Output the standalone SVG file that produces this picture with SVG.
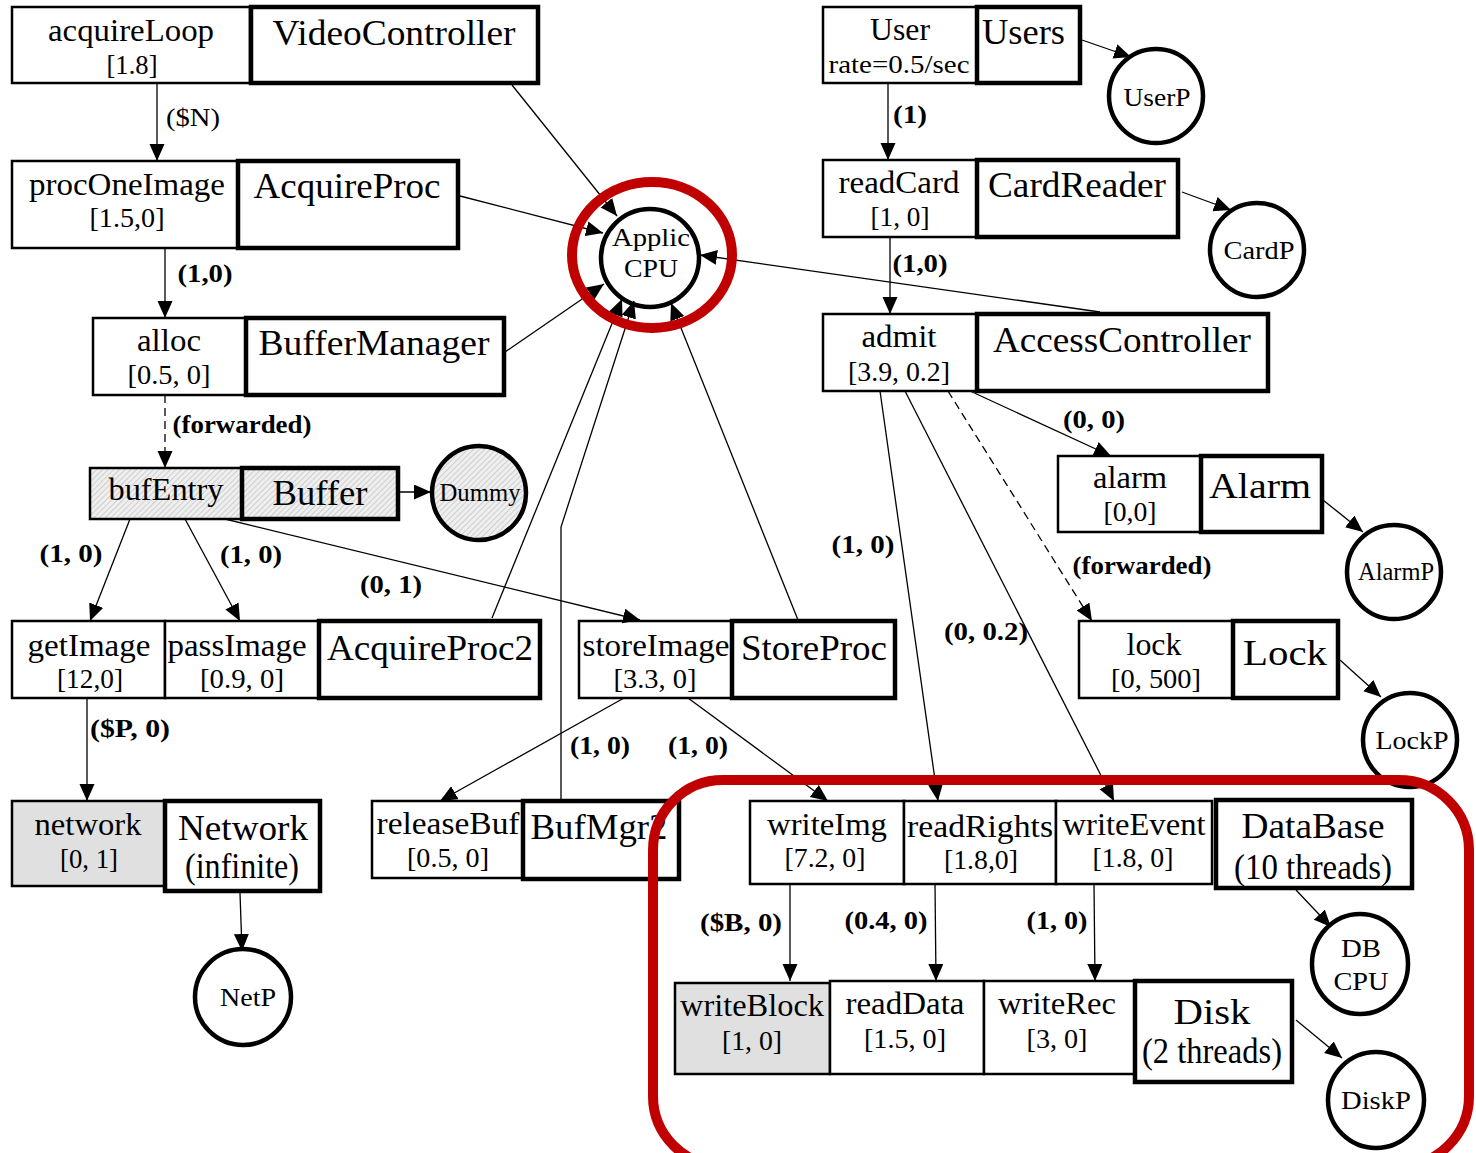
<svg xmlns="http://www.w3.org/2000/svg" width="1476" height="1153" viewBox="0 0 1476 1153">
<defs>
<pattern id="hatch" patternUnits="userSpaceOnUse" width="4" height="4" patternTransform="rotate(45)">
<rect width="4" height="4" fill="#efefef"/>
<line x1="0" y1="0" x2="0" y2="4" stroke="#b8b8b8" stroke-width="1.2"/>
</pattern>
<marker id="arr" markerUnits="userSpaceOnUse" markerWidth="18" markerHeight="16" refX="17" refY="7.5" orient="auto">
<path d="M0,0 L17,7.5 L0,15 z" fill="#000"/>
</marker>
</defs>
<style>
.e{fill:#fff;stroke:#000;stroke-width:2.5}
.t{fill:#fff;stroke:#000;stroke-width:4.5}
.p{fill:#fff;stroke:#000;stroke-width:4.5}
.g{fill:#e0e0e0}
.h{fill:url(#hatch)}
text{font-family:"Liberation Serif","Times New Roman",serif;fill:#000;text-anchor:middle}
.n{font-size:31px}
.b{font-size:28px}
.T{font-size:36px}
.c{font-size:25px}
.l{font-size:25px;font-weight:bold}
.conn path{fill:none;stroke:#000;stroke-width:1.3;marker-end:url(#arr)}
.conn path.d{stroke-dasharray:8,5}
.red{fill:none;stroke:#c00000;stroke-width:10}
</style>
<rect width="1476" height="1153" fill="#fff"/>

<g id="acquireLoop"><rect class="e" x="12" y="7" width="238" height="76"/><text class="n" x="131" y="41" textLength="166" lengthAdjust="spacingAndGlyphs">acquireLoop</text><text class="b" x="132" y="74" textLength="51" lengthAdjust="spacingAndGlyphs">[1.8]</text></g>
<g id="VideoController"><rect class="t" x="251" y="7" width="287" height="76"/><text class="T" x="394" y="45" textLength="243" lengthAdjust="spacingAndGlyphs">VideoController</text></g>

<g id="procOneImage"><rect class="e" x="12" y="161" width="226" height="87"/><text class="n" x="127" y="195" textLength="196" lengthAdjust="spacingAndGlyphs">procOneImage</text><text class="b" x="127" y="227" textLength="75" lengthAdjust="spacingAndGlyphs">[1.5,0]</text></g>
<g id="AcquireProc"><rect class="t" x="238" y="161" width="220" height="87"/><text class="T" x="347" y="198" textLength="187" lengthAdjust="spacingAndGlyphs">AcquireProc</text></g>

<g id="alloc"><rect class="e" x="93" y="318" width="153" height="77"/><text class="n" x="169" y="351" textLength="64" lengthAdjust="spacingAndGlyphs">alloc</text><text class="b" x="169" y="384" textLength="83" lengthAdjust="spacingAndGlyphs">[0.5, 0]</text></g>
<g id="BufferManager"><rect class="t" x="246" y="318" width="258" height="77"/><text class="T" x="374" y="355" textLength="231" lengthAdjust="spacingAndGlyphs">BufferManager</text></g>

<g id="bufEntry"><rect class="e h" x="90" y="468" width="152" height="51"/><text class="n" x="166" y="500" textLength="115" lengthAdjust="spacingAndGlyphs">bufEntry</text></g>
<g id="Buffer"><rect class="t h" x="242" y="468" width="156" height="51"/><text class="T" x="320" y="505" font-size="38" textLength="95" lengthAdjust="spacingAndGlyphs">Buffer</text></g>
<g id="Dummy"><circle class="p h" cx="479" cy="493" r="47"/><text class="c" x="480" y="501" font-size="23" textLength="81" lengthAdjust="spacingAndGlyphs">Dummy</text></g>

<g id="getImage"><rect class="e" x="12" y="621" width="153" height="77"/><text class="n" x="89" y="656" textLength="123" lengthAdjust="spacingAndGlyphs">getImage</text><text class="b" x="90" y="688" textLength="66" lengthAdjust="spacingAndGlyphs">[12,0]</text></g>
<g id="passImage"><rect class="e" x="165" y="621" width="154" height="77"/><text class="n" x="237" y="656" textLength="139" lengthAdjust="spacingAndGlyphs">passImage</text><text class="b" x="242" y="688" textLength="84" lengthAdjust="spacingAndGlyphs">[0.9, 0]</text></g>
<g id="AcquireProc2"><rect class="t" x="319" y="621" width="221" height="77"/><text class="T" x="430" y="660" textLength="206" lengthAdjust="spacingAndGlyphs">AcquireProc2</text></g>
<g id="storeImage"><rect class="e" x="579" y="621" width="153" height="77"/><text class="n" x="656" y="656" textLength="147" lengthAdjust="spacingAndGlyphs">storeImage</text><text class="b" x="655" y="688" textLength="83" lengthAdjust="spacingAndGlyphs">[3.3, 0]</text></g>
<g id="StoreProc"><rect class="t" x="732" y="621" width="163" height="77"/><text class="T" x="814" y="660" textLength="146" lengthAdjust="spacingAndGlyphs">StoreProc</text></g>

<g id="network"><rect class="e g" x="12" y="801" width="153" height="85"/><text class="n" x="88" y="835" textLength="107" lengthAdjust="spacingAndGlyphs">network</text><text class="b" x="89" y="868" textLength="58" lengthAdjust="spacingAndGlyphs">[0, 1]</text></g>
<g id="Network"><rect class="t" x="165" y="801" width="155" height="90"/><text class="T" x="243" y="840" textLength="130" lengthAdjust="spacingAndGlyphs">Network</text><text class="T" x="242" y="878" font-size="33" textLength="114" lengthAdjust="spacingAndGlyphs">(infinite)</text></g>
<g id="NetP"><circle class="p" cx="243" cy="997" r="48"/><text class="c" x="248" y="1006" textLength="56" lengthAdjust="spacingAndGlyphs">NetP</text></g>

<g id="releaseBuf"><rect class="e" x="372" y="801" width="151" height="77"/><text class="n" x="448" y="834" textLength="143" lengthAdjust="spacingAndGlyphs">releaseBuf</text><text class="b" x="448" y="867" textLength="82" lengthAdjust="spacingAndGlyphs">[0.5, 0]</text></g>
<g id="BufMgr2"><rect class="t" x="523" y="801" width="156" height="78"/><text class="T" x="599" y="839" textLength="137" lengthAdjust="spacingAndGlyphs">BufMgr2</text></g>

<g id="ApplicCPU"><circle class="p" cx="650" cy="258" r="49"/><text class="c" x="651" y="246" font-size="27" textLength="78" lengthAdjust="spacingAndGlyphs">Applic</text><text class="c" x="651" y="277" font-size="27" textLength="54" lengthAdjust="spacingAndGlyphs">CPU</text></g>

<g id="User"><rect class="e" x="823" y="7" width="154" height="76"/><text class="n" x="900" y="40" textLength="60" lengthAdjust="spacingAndGlyphs">User</text><text class="c" x="899" y="73" textLength="141" lengthAdjust="spacingAndGlyphs">rate=0.5/sec</text></g>
<g id="Users"><rect class="t" x="977" y="7" width="103" height="76"/><text class="T" x="982" y="44" style="text-anchor:start" font-size="38" textLength="83" lengthAdjust="spacingAndGlyphs">Users</text></g>
<g id="UserP"><circle class="p" cx="1156" cy="96" r="47"/><text class="c" x="1157" y="106" textLength="67" lengthAdjust="spacingAndGlyphs">UserP</text></g>

<g id="readCard"><rect class="e" x="823" y="160" width="154" height="77"/><text class="n" x="899" y="193" textLength="121" lengthAdjust="spacingAndGlyphs">readCard</text><text class="b" x="900" y="226" textLength="59" lengthAdjust="spacingAndGlyphs">[1, 0]</text></g>
<g id="CardReader"><rect class="t" x="977" y="160" width="201" height="77"/><text class="T" x="1077" y="197" textLength="178" lengthAdjust="spacingAndGlyphs">CardReader</text></g>
<g id="CardP"><circle class="p" cx="1257" cy="250" r="47"/><text class="c" x="1259" y="259" textLength="71" lengthAdjust="spacingAndGlyphs">CardP</text></g>

<g id="admit"><rect class="e" x="823" y="314" width="154" height="77"/><text class="n" x="899" y="347" textLength="75" lengthAdjust="spacingAndGlyphs">admit</text><text class="b" x="899" y="381" textLength="102" lengthAdjust="spacingAndGlyphs">[3.9, 0.2]</text></g>
<g id="AccessController"><rect class="t" x="977" y="314" width="291" height="77"/><text class="T" x="1122" y="352" textLength="258" lengthAdjust="spacingAndGlyphs">AccessController</text></g>

<g id="alarm"><rect class="e" x="1058" y="456" width="143" height="76"/><text class="n" x="1130" y="488" textLength="74" lengthAdjust="spacingAndGlyphs">alarm</text><text class="b" x="1130" y="521" textLength="53" lengthAdjust="spacingAndGlyphs">[0,0]</text></g>
<g id="Alarm"><rect class="t" x="1201" y="456" width="121" height="76"/><text class="T" x="1260" y="498" font-size="42" textLength="102" lengthAdjust="spacingAndGlyphs">Alarm</text></g>
<g id="AlarmP"><circle class="p" cx="1394" cy="572" r="47"/><text class="c" x="1396" y="580" font-size="22" textLength="76" lengthAdjust="spacingAndGlyphs">AlarmP</text></g>

<g id="lock"><rect class="e" x="1079" y="621" width="154" height="77"/><text class="n" x="1154" y="655" textLength="55" lengthAdjust="spacingAndGlyphs">lock</text><text class="b" x="1156" y="688" textLength="90" lengthAdjust="spacingAndGlyphs">[0, 500]</text></g>
<g id="Lock"><rect class="t" x="1233" y="621" width="105" height="77"/><text class="T" x="1285" y="665" font-size="42" textLength="84" lengthAdjust="spacingAndGlyphs">Lock</text></g>
<g id="LockP"><circle class="p" cx="1410" cy="740" r="47"/><text class="c" x="1412" y="749" textLength="73" lengthAdjust="spacingAndGlyphs">LockP</text></g>

<g id="writeImg"><rect class="e" x="750" y="801" width="154" height="83"/><text class="n" x="827" y="835" textLength="120" lengthAdjust="spacingAndGlyphs">writeImg</text><text class="b" x="825" y="867" textLength="81" lengthAdjust="spacingAndGlyphs">[7.2, 0]</text></g>
<g id="readRights"><rect class="e" x="904" y="801" width="152" height="83"/><text class="n" x="980" y="837" textLength="146" lengthAdjust="spacingAndGlyphs">readRights</text><text class="b" x="981" y="869" textLength="74" lengthAdjust="spacingAndGlyphs">[1.8,0]</text></g>
<g id="writeEvent"><rect class="e" x="1056" y="801" width="156" height="83"/><text class="n" x="1134" y="835" textLength="143" lengthAdjust="spacingAndGlyphs">writeEvent</text><text class="b" x="1133" y="867" textLength="81" lengthAdjust="spacingAndGlyphs">[1.8, 0]</text></g>
<g id="DataBase"><rect class="t" x="1216" y="800" width="196" height="88"/><text class="T" x="1313" y="838" textLength="143" lengthAdjust="spacingAndGlyphs">DataBase</text><text class="T" x="1313" y="879" font-size="33" textLength="158" lengthAdjust="spacingAndGlyphs">(10 threads)</text></g>
<g id="DBCPU"><ellipse class="p" cx="1360" cy="964" rx="48" ry="50"/><text class="c" x="1361" y="957" font-size="27" textLength="40" lengthAdjust="spacingAndGlyphs">DB</text><text class="c" x="1361" y="990" font-size="27" textLength="55" lengthAdjust="spacingAndGlyphs">CPU</text></g>

<g id="writeBlock"><rect class="e g" x="675" y="983" width="155" height="91"/><text class="n" x="752" y="1016" textLength="144" lengthAdjust="spacingAndGlyphs">writeBlock</text><text class="b" x="752" y="1050" textLength="60" lengthAdjust="spacingAndGlyphs">[1, 0]</text></g>
<g id="readData"><rect class="e" x="830" y="981" width="154" height="93"/><text class="n" x="905" y="1014" textLength="119" lengthAdjust="spacingAndGlyphs">readData</text><text class="b" x="905" y="1048" textLength="82" lengthAdjust="spacingAndGlyphs">[1.5, 0]</text></g>
<g id="writeRec"><rect class="e" x="984" y="981" width="151" height="93"/><text class="n" x="1057" y="1014" textLength="118" lengthAdjust="spacingAndGlyphs">writeRec</text><text class="b" x="1057" y="1048" textLength="61" lengthAdjust="spacingAndGlyphs">[3, 0]</text></g>
<g id="Disk"><rect class="t" x="1135" y="981" width="157" height="101"/><text class="T" x="1212" y="1024" font-size="44" textLength="77" lengthAdjust="spacingAndGlyphs">Disk</text><text class="T" x="1212" y="1063" font-size="33" textLength="140" lengthAdjust="spacingAndGlyphs">(2 threads)</text></g>
<g id="DiskP"><circle class="p" cx="1376" cy="1100" r="48"/><text class="c" x="1376" y="1109" textLength="70" lengthAdjust="spacingAndGlyphs">DiskP</text></g>

<g id="connectors" class="conn">
<path d="M157,83 L157,161"/>
<path d="M165,248 L165,318"/>
<path class="d" d="M165,395 L165,468"/>
<path d="M398,492 L431,492"/>
<path d="M130,519 L90,621"/>
<path d="M185,519 L240,621"/>
<path d="M225,519 L640,620"/>
<path d="M512,85 L617,216"/>
<path d="M460,196 L603,233"/>
<path d="M505,352 L604,284"/>
<path d="M492,618 L622,299"/>
<path d="M561,800 L561,527 L634,301"/>
<path d="M798,620 L671,303"/>
<path d="M1100,312 L700,255"/>
<path d="M888,83 L888,160"/>
<path d="M890,237 L890,314"/>
<path d="M970,391 L1111,456"/>
<path class="d" d="M948,391 L1092,621"/>
<path d="M880,391 L938,801"/>
<path d="M905,391 L1114,801"/>
<path d="M1082,40 L1131,57"/>
<path d="M1182,192 L1231,210"/>
<path d="M1323,500 L1363,532"/>
<path d="M1340,660 L1381,697"/>
<path d="M87,698 L87,801"/>
<path d="M240,893 L242,951"/>
<path d="M624,698 L440,801"/>
<path d="M688,698 L828,801"/>
<path d="M1296,890 L1331,927"/>
<path d="M790,884 L790,981"/>
<path d="M935,884 L936,981"/>
<path d="M1094,884 L1095,981"/>
<path d="M1296,1020 L1342,1058"/>
</g>

<g id="labels">
<text x="193" y="126" font-size="25" textLength="54" lengthAdjust="spacingAndGlyphs">($N)</text>
<text class="l" x="205" y="282" textLength="55" lengthAdjust="spacingAndGlyphs">(1,0)</text>
<text class="l" x="242" y="433" textLength="139" lengthAdjust="spacingAndGlyphs">(forwarded)</text>
<text class="l" x="71" y="562" textLength="63" lengthAdjust="spacingAndGlyphs">(1, 0)</text>
<text class="l" x="251" y="563" textLength="62" lengthAdjust="spacingAndGlyphs">(1, 0)</text>
<text class="l" x="391" y="593" textLength="62" lengthAdjust="spacingAndGlyphs">(0, 1)</text>
<text class="l" x="130" y="737" textLength="80" lengthAdjust="spacingAndGlyphs">($P, 0)</text>
<text class="l" x="600" y="754" textLength="60" lengthAdjust="spacingAndGlyphs">(1, 0)</text>
<text class="l" x="698" y="754" textLength="60" lengthAdjust="spacingAndGlyphs">(1, 0)</text>
<text class="l" x="910" y="123" textLength="34" lengthAdjust="spacingAndGlyphs">(1)</text>
<text class="l" x="920" y="272" textLength="55" lengthAdjust="spacingAndGlyphs">(1,0)</text>
<text class="l" x="1094" y="428" textLength="62" lengthAdjust="spacingAndGlyphs">(0, 0)</text>
<text class="l" x="863" y="553" textLength="63" lengthAdjust="spacingAndGlyphs">(1, 0)</text>
<text class="l" x="1142" y="574" textLength="139" lengthAdjust="spacingAndGlyphs">(forwarded)</text>
<text class="l" x="986" y="640" textLength="84" lengthAdjust="spacingAndGlyphs">(0, 0.2)</text>
<text class="l" x="741" y="931" textLength="82" lengthAdjust="spacingAndGlyphs">($B, 0)</text>
<text class="l" x="886" y="929" textLength="83" lengthAdjust="spacingAndGlyphs">(0.4, 0)</text>
<text class="l" x="1057" y="929" textLength="61" lengthAdjust="spacingAndGlyphs">(1, 0)</text>
</g>

<g id="highlights">
<ellipse class="red" cx="652" cy="255" rx="80" ry="73" stroke-width="9"/>
<rect class="red" x="653" y="780" width="816" height="386" rx="70" ry="70"/>
</g>
</svg>
